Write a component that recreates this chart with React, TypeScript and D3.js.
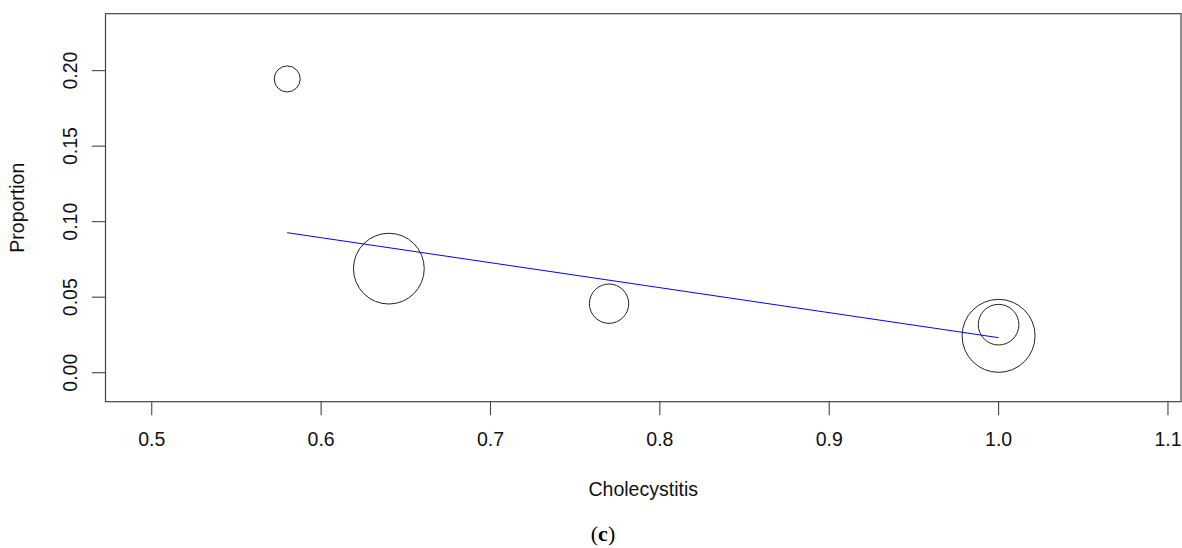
import React from 'react';
import * as d3 from 'd3';

// study-level points: moderator (cholecystitis) vs proportion, bubble weight
const modX = [0.58, 0.64, 0.77, 1.0, 1.0];
const propY = [0.1945, 0.0689, 0.0457, 0.0244, 0.0318];
const weights = [0.127, 0.94, 0.29, 1.0, 0.31];

// fitted meta-regression line
const fitX = [0.58, 1.0];
const fitY = [0.0927, 0.0232];

const xTicks = [0.5, 0.6, 0.7, 0.8, 0.9, 1.0, 1.1];
const yTicks = [0.0, 0.05, 0.1, 0.15, 0.2];

const W = 1182;
const H = 548;
const box = { left: 105.5, right: 1181, top: 13.7, bottom: 401.7 };
const font = "'Liberation Sans', Arial, sans-serif";

const App: React.FC = () => {
  const x = d3.scaleLinear().domain([0.4727, 1.1077]).range([box.left, box.right]);
  const y = d3.scaleLinear().domain([-0.0192, 0.2377]).range([box.bottom, box.top]);
  const r = d3.scaleSqrt().domain([0, 1]).range([0, 36.5]);

  const line = d3.line<number>()
    .x((_, i) => x(fitX[i]))
    .y(d => y(d));

  const tickLen = 13.5;

  return (
    <div style={{ position: 'absolute', left: 0, top: 0 }}>
      <svg width={W} height={H} style={{ display: 'block', background: '#fff' }}>
        {/* plot box */}
        <rect x={box.left} y={box.top} width={box.right - box.left} height={box.bottom - box.top}
          fill="none" stroke="#444" strokeWidth={1.2} />

        {/* x axis */}
        <g>
          {xTicks.map(t => (
            <g key={t}>
              <line x1={x(t)} x2={x(t)} y1={box.bottom} y2={box.bottom + tickLen} stroke="#444" strokeWidth={1.1} />
              <text x={x(t)} y={446} textAnchor="middle" fontFamily={font} fontSize={19.5} fill="#111">
                {d3.format('.1f')(t)}
              </text>
            </g>
          ))}
        </g>

        {/* y axis */}
        <g>
          {yTicks.map(t => (
            <g key={t}>
              <line x1={box.left - tickLen} x2={box.left} y1={y(t)} y2={y(t)} stroke="#444" strokeWidth={1.1} />
              <text transform={`translate(77,${y(t)}) rotate(-90)`} textAnchor="middle"
                fontFamily={font} fontSize={19.5} fill="#111">
                {d3.format('.2f')(t)}
              </text>
            </g>
          ))}
        </g>

        {/* axis titles */}
        <text x={(box.left + box.right) / 2} y={496} textAnchor="middle" fontFamily={font} fontSize={19.5} fill="#111">
          Cholecystitis
        </text>
        <text transform={`translate(24,${(box.top + box.bottom) / 2}) rotate(-90)`} textAnchor="middle"
          fontFamily={font} fontSize={19.5} fill="#111">
          Proportion
        </text>

        {/* bubbles */}
        {modX.map((mx, i) => (
          <circle key={i} cx={x(mx)} cy={y(propY[i])} r={r(weights[i])}
            fill="none" stroke="#222" strokeWidth={1} />
        ))}

        {/* regression line */}
        <path d={line(fitY) || ''} fill="none" stroke="#0000ff" strokeWidth={1} />

        {/* panel label */}
        <text x={603} y={541} textAnchor="middle" fontFamily="'Liberation Serif', 'Times New Roman', serif"
          fontSize={22} fill="#000">
          (<tspan fontWeight="bold">c</tspan>)
        </text>
      </svg>
    </div>
  );
};

export default App;
